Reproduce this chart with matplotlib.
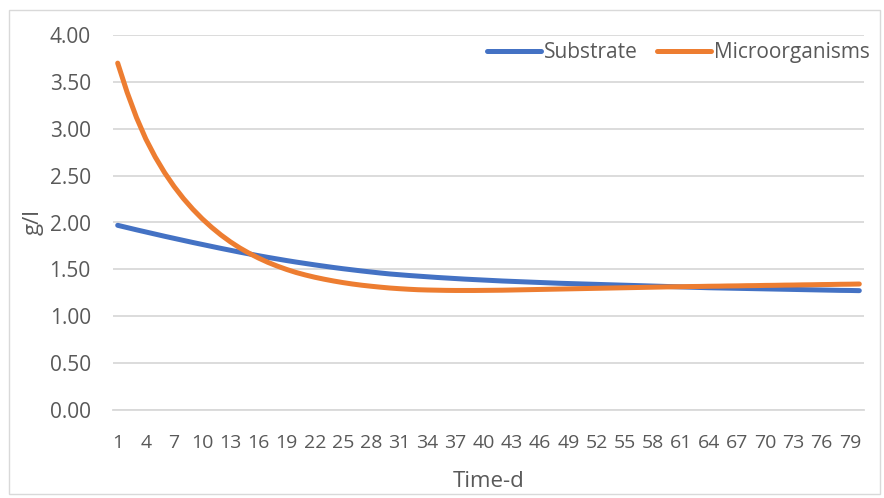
import matplotlib.pyplot as plt
from matplotlib.patches import Rectangle

# days 1..80
days = list(range(1, 81))

substrate = [
    1.970, 1.946, 1.922, 1.899, 1.876, 1.853, 1.831, 1.809, 1.787, 1.766,
    1.745, 1.724, 1.704, 1.684, 1.665, 1.646, 1.628, 1.611, 1.594, 1.578,
    1.563, 1.548, 1.534, 1.520, 1.507, 1.495, 1.483, 1.472, 1.461, 1.451,
    1.443, 1.435, 1.428, 1.421, 1.414, 1.408, 1.402, 1.396, 1.391, 1.386,
    1.381, 1.376, 1.372, 1.368, 1.364, 1.360, 1.356, 1.352, 1.349, 1.346,
    1.343, 1.340, 1.337, 1.334, 1.331, 1.328, 1.325, 1.322, 1.319, 1.316,
    1.313, 1.310, 1.307, 1.304, 1.302, 1.300, 1.298, 1.296, 1.294, 1.292,
    1.290, 1.288, 1.286, 1.284, 1.282, 1.280, 1.278, 1.276, 1.275, 1.273,
]

microorganisms = [
    3.700, 3.390, 3.120, 2.890, 2.698, 2.531, 2.385, 2.256, 2.142, 2.040,
    1.949, 1.867, 1.794, 1.729, 1.672, 1.621, 1.575, 1.535, 1.499, 1.467,
    1.440, 1.416, 1.395, 1.376, 1.359, 1.344, 1.331, 1.320, 1.310, 1.301,
    1.294, 1.288, 1.283, 1.280, 1.278, 1.276, 1.275, 1.275, 1.275, 1.276,
    1.277, 1.278, 1.280, 1.282, 1.284, 1.286, 1.288, 1.290, 1.292, 1.294,
    1.296, 1.298, 1.300, 1.302, 1.304, 1.306, 1.308, 1.310, 1.312, 1.314,
    1.315, 1.317, 1.318, 1.320, 1.321, 1.323, 1.324, 1.326, 1.327, 1.329,
    1.330, 1.332, 1.333, 1.335, 1.336, 1.338, 1.339, 1.341, 1.342, 1.344,
]

yticks = [0, 0.5, 1.0, 1.5, 2.0, 2.5, 3.0, 3.5, 4.0]
xticks = days[::3]

plt.rcParams['font.family'] = ['Open Sans', 'DejaVu Sans']
text_color = '#595959'
grid_color = '#D9D9D9'

fig = plt.figure(figsize=(8.84, 4.98), dpi=100)
ax = fig.add_axes([113 / 884, 1 - 410 / 498, 751 / 884, 375 / 498])

# outer chart border
fig.patches.append(Rectangle((9 / 884, 4 / 498), 871 / 884, 484 / 498,
                             transform=fig.transFigure, fill=False,
                             edgecolor=grid_color, linewidth=1.0))

ax.plot(days, substrate, color='#4472C4', linewidth=3.6,
        solid_capstyle='round', label='Substrate', zorder=3)
ax.plot(days, microorganisms, color='#ED7D31', linewidth=3.6,
        solid_capstyle='round', label='Microorganisms', zorder=3)

ax.set_xlim(0.5, 80.5)
ax.set_ylim(0, 4)
ax.set_yticks(yticks)
ax.set_yticklabels(['%.2f' % v for v in yticks])
ax.set_xticks(xticks)
ax.set_xticklabels([str(d) for d in xticks])

ax.grid(axis='y', color=grid_color, linewidth=1.3, zorder=0)
ax.set_axisbelow(True)
for s in ['top', 'right', 'left']:
    ax.spines[s].set_visible(False)
ax.spines['bottom'].set_color(grid_color)
ax.spines['bottom'].set_linewidth(1.3)

ax.tick_params(axis='both', length=0, labelcolor=text_color)
ax.tick_params(axis='y', pad=16, labelsize=15)
ax.tick_params(axis='x', pad=17, labelsize=14)

ax.set_ylabel('g/l', fontsize=16, color=text_color, labelpad=4)
ax.set_xlabel('Time-d', fontsize=16, color=text_color, labelpad=14)

leg = ax.legend(loc='upper right', bbox_to_anchor=(878 / 884, 1 - 34 / 498),
                bbox_transform=fig.transFigure, ncol=2, frameon=False,
                fontsize=15, handlelength=2.6, handletextpad=0.15,
                columnspacing=0.9, borderaxespad=0)
for t in leg.get_texts():
    t.set_color(text_color)

fig.savefig('out.png', dpi=100)
